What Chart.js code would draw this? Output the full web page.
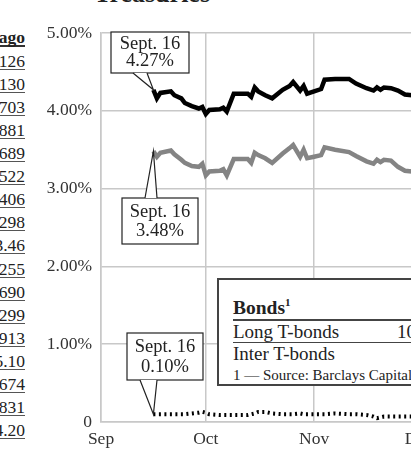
<!DOCTYPE html>
<html>
<head>
<meta charset="utf-8">
<script src="https://cdn.jsdelivr.net/npm/chart.js@4.4.0/dist/chart.umd.min.js"></script>
<style>
html, body { margin:0; padding:0; background:#fff; }
body { width:411px; height:463px; overflow:hidden; position:relative; font-family:"Liberation Serif", serif; color:#222; }
#wrap { position:absolute; left:0; top:0; width:440px; height:463px; }
#title { position:absolute; left:94px; top:-19px; font-size:26px; line-height:26px; font-weight:bold; white-space:nowrap; }
.row { position:absolute; right:386px; width:70px; height:18px; line-height:20px; font-size:17.5px; text-align:right; border-bottom:1.5px solid #555; white-space:nowrap; }
.row.head { font-weight:bold; border-bottom:2px solid #333; }
#legend { position:absolute; left:217px; top:278px; width:300px; height:104px; border:2px solid #444; background:#fff; }
#legend div { position:absolute; white-space:nowrap; }
</style>
</head>
<body>
<div id="title">Treasuries</div>
<div id="table"></div>
<div id="wrap"><canvas id="chart"></canvas></div>
<div id="legend">
  <div style="left:14px; top:16px; font-size:19.5px; font-weight:bold;">Bonds<sup style="font-size:11px;">1</sup></div>
  <div style="left:14px; top:39px; width:300px; border-top:2px solid #444;"></div>
  <div style="left:14px; top:41px; font-size:19px;">Long T-bonds</div>
  <div style="left:178px; top:41px; font-size:19px;">10</div>
  <div style="left:14px; top:62px; width:300px; border-top:1.5px solid #444;"></div>
  <div style="left:14px; top:63px; font-size:19px;">Inter T-bonds</div>
  <div style="left:14px; top:87px; font-size:15px;">1 — Source: Barclays Capital</div>
</div>
<script>
// 날짜 = 9월 1일부터의 일수
const monthDays = [0, 30, 61, 91];
const monthLabels = ['Sep', 'Oct', 'Nov', 'Dec'];

const days = [15,16,17,20,21,23,24,26,28,29,30,31,34,35,36,38,42,43,44,45,47,49,52,54,55,57,58,59,61,63,64,67,71,73,76,78,79,80,81,83,85,87,89,91];
const longBonds = [4.27,4.16,4.23,4.25,4.20,4.16,4.10,4.06,4.03,4.05,3.96,4.01,4.02,4.04,3.99,4.22,4.22,4.18,4.30,4.25,4.20,4.16,4.27,4.32,4.37,4.26,4.32,4.22,4.25,4.28,4.40,4.41,4.41,4.35,4.29,4.26,4.30,4.27,4.30,4.29,4.26,4.21,4.20,4.19];
const interBonds = [3.48,3.41,3.46,3.49,3.44,3.37,3.33,3.29,3.28,3.32,3.17,3.22,3.23,3.25,3.17,3.38,3.38,3.33,3.46,3.43,3.39,3.33,3.45,3.52,3.56,3.41,3.50,3.39,3.41,3.43,3.53,3.50,3.47,3.42,3.35,3.32,3.37,3.34,3.37,3.36,3.28,3.23,3.22,3.21];
const bills = [0.10,0.10,0.10,0.10,0.10,0.10,0.10,0.11,0.12,0.13,0.12,0.10,0.09,0.09,0.09,0.09,0.09,0.10,0.11,0.13,0.13,0.11,0.10,0.10,0.10,0.11,0.10,0.10,0.10,0.10,0.10,0.11,0.10,0.10,0.09,0.07,0.05,0.06,0.07,0.07,0.07,0.07,0.07,0.07];

const yTicks = [0, 1, 2, 3, 4, 5];

// 왼쪽 표 (잘린 열)
const tableHead = 'ago';
const tableValues = ['126','130','703','1,881','1,689','2,522','406','298','3.46','255','1,690','299','913','5.10','1,674','1,831','4.20'];

const $ = id => document.getElementById(id);

function renderTable(){
  const t = $('table');
  const h = document.createElement('div');
  h.className = 'row head';
  h.style.top = '27px';
  h.textContent = tableHead;
  t.appendChild(h);
  tableValues.forEach((v, i) => {
    const r = document.createElement('div');
    r.className = 'row';
    r.style.top = (51 + i * 23.06) + 'px';
    r.textContent = v;
    t.appendChild(r);
  });
}

const toPts = vals => vals.map((v, i) => ({ x: days[i], y: v }));

// 말풍선 주석
const callouts = [
  { ds: 0, box: [111, 32, 78, 41], tail: [133, 147], lines: ['Sept. 16', longBonds[0].toFixed(2) + '%'] },
  { ds: 1, box: [122, 198, 76, 46], tail: [145, 157], lines: ['Sept. 16', interBonds[0].toFixed(2) + '%'] },
  { ds: 2, box: [127, 333, 76, 47], tail: [140, 157], lines: ['Sept. 16', bills[0].toFixed(2) + '%'] }
];

const calloutPlugin = {
  id: 'callouts',
  afterDatasetsDraw(chart){
    const ctx = chart.ctx;
    const xs = chart.scales.x, ys = chart.scales.y;
    ctx.save();
    callouts.forEach(c => {
      const tipX = xs.getPixelForValue(days[0]);
      const tipY = ys.getPixelForValue(chart.data.datasets[c.ds].data[0].y);
      const [bx, by, bw, bh] = c.box;
      const below = tipY > by + bh;
      const baseY = below ? by + bh : by;
      ctx.fillStyle = '#fff';
      ctx.strokeStyle = '#222';
      ctx.lineWidth = 1.2;
      ctx.fillRect(bx, by, bw, bh);
      ctx.strokeRect(bx, by, bw, bh);
      // 꼬리
      ctx.beginPath();
      ctx.moveTo(c.tail[0], baseY);
      ctx.lineTo(tipX, tipY);
      ctx.lineTo(c.tail[1], baseY);
      ctx.closePath();
      ctx.fill();
      ctx.beginPath();
      ctx.moveTo(c.tail[0], baseY);
      ctx.lineTo(tipX, tipY);
      ctx.lineTo(c.tail[1], baseY);
      ctx.stroke();
      ctx.fillStyle = '#222';
      ctx.font = '18.5px "Liberation Serif", serif';
      ctx.textAlign = 'center';
      ctx.textBaseline = 'middle';
      ctx.fillText(c.lines[0], bx + bw / 2, by + bh * 0.3);
      ctx.fillText(c.lines[1], bx + bw / 2, by + bh * 0.72);
    });
    ctx.restore();
  }
};

function initChart(){
  const ctx = $('chart').getContext('2d');
  const grid = { color: '#c8c8c8', lineWidth: 1.5, drawTicks: false };
  const border = { color: '#c8c8c8', width: 1.5 };
  const font = { family: '"Liberation Serif", serif', size: 17.5 };
  new Chart(ctx, {
    type: 'line',
    data: {
      datasets: [
        { label: 'Long T-bonds', data: toPts(longBonds), borderColor: '#000', borderWidth: 4.5 },
        { label: 'Inter T-bonds', data: toPts(interBonds), borderColor: '#848484', borderWidth: 4.5 },
        { label: 'Bills', data: toPts(bills), borderColor: '#000', borderWidth: 4, borderDash: [2, 3.5] }
      ]
    },
    options: {
      responsive: true,
      maintainAspectRatio: false,
      animation: false,
      elements: { point: { radius: 0 }, line: { tension: 0, borderCapStyle: 'butt', borderJoinStyle: 'miter' } },
      layout: { padding: { top: 33, right: 20.5, left: 0, bottom: 0 } },
      plugins: { legend: { display: false }, tooltip: { enabled: false } },
      scales: {
        x: {
          type: 'linear', min: monthDays[0], max: monthDays[monthDays.length - 1],
          grid, border,
          afterBuildTicks: s => { s.ticks = monthDays.map(v => ({ value: v })); },
          afterFit: s => { s.height = 41; },
          ticks: { font, color: '#333', padding: 7, maxRotation: 0, autoSkip: false,
                   callback: v => monthLabels[monthDays.indexOf(v)] }
        },
        y: {
          min: 0, max: 5,
          grid, border,
          afterBuildTicks: s => { s.ticks = yTicks.map(v => ({ value: v })); },
          afterFit: s => { s.width = 101; },
          ticks: { font, color: '#333', padding: 9,
                   callback: v => v === 0 ? '0' : v.toFixed(2) + '%' }
        }
      }
    },
    plugins: [calloutPlugin]
  });
}

renderTable();
initChart();
</script>
</body>
</html>
